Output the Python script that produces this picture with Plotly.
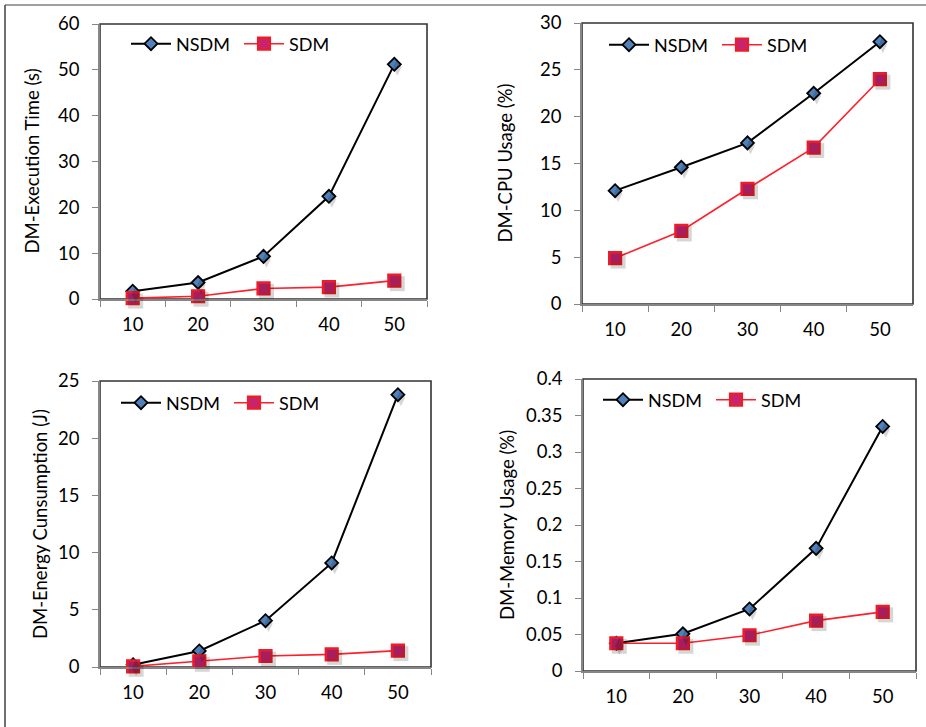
import plotly.graph_objects as go

# ---------------- data ----------------
categories = ["10", "20", "30", "40", "50"]

exec_nsdm = [1.7, 3.6, 9.3, 22.4, 51.2]
exec_sdm = [0.2, 0.6, 2.3, 2.6, 4.0]

cpu_nsdm = [12.1, 14.6, 17.2, 22.5, 28.0]
cpu_sdm = [4.9, 7.8, 12.3, 16.7, 24.0]

energy_nsdm = [0.2, 1.4, 4.05, 9.1, 23.8]
energy_sdm = [0.06, 0.5, 0.96, 1.1, 1.43]

mem_nsdm = [0.038, 0.051, 0.085, 0.168, 0.335]
mem_sdm = [0.038, 0.038, 0.049, 0.069, 0.081]

y_titles = ["DM-Execution Time (s)", "DM-CPU Usage (%)",
            "DM-Energy Cunsumption (J)", "DM-Memory Usage (%)"]
exec_ticks = [0, 10, 20, 30, 40, 50, 60]
cpu_ticks = [0, 5, 10, 15, 20, 25, 30]
energy_ticks = [0, 5, 10, 15, 20, 25]
mem_ticks = [0, 0.05, 0.1, 0.15, 0.2, 0.25, 0.3, 0.35, 0.4]
mem_tick_text = ["0", "0.05", "0.1", "0.15", "0.2", "0.25", "0.3", "0.35", "0.4"]

# ---------------- layout helpers ----------------
W, H = 926, 727
FONT = "Lato"
FS = 18.5
def px(x):
    return x / W
def py(y):
    return 1 - y / H

# plot-area pixel boxes (left, right, top, bottom) in screen pixels
boxes = [(100, 427, 24, 299), (582, 913, 23, 304),
         (100, 431, 381, 667), (583, 916, 379, 671)]
title_x = [31, 505, 40, 507]
legend_pos = [(126, 44), (604, 45), (116, 403), (598, 400)]

panels = [
    (exec_nsdm, exec_sdm, exec_ticks, [str(v) for v in exec_ticks], [0, 60]),
    (cpu_nsdm, cpu_sdm, cpu_ticks, [str(v) for v in cpu_ticks], [0, 30]),
    (energy_nsdm, energy_sdm, energy_ticks, [str(v) for v in energy_ticks], [0, 25]),
    (mem_nsdm, mem_sdm, mem_ticks, mem_tick_text, [0, 0.4]),
]

fig = go.Figure()
layout = dict(
    width=W, height=H, margin=dict(l=0, r=0, t=0, b=0, pad=0, autoexpand=False),
    paper_bgcolor="white", plot_bgcolor="rgba(0,0,0,0)",
    font=dict(family=FONT, size=FS, color="#000000"),
    showlegend=True,
)
shapes = []
annotations = []

SH = 3  # shadow offset in px

for i, (nsdm, sdm, tv, tt, yr) in enumerate(panels):
    n = i + 1
    s = n + 4
    l, r, t, b = boxes[i]
    xa = "xaxis" if n == 1 else f"xaxis{n}"
    ya = "yaxis" if n == 1 else f"yaxis{n}"
    xs, ys = f"xaxis{s}", f"yaxis{s}"
    legname = "legend" if n == 1 else f"legend{n}"

    # shadow traces
    for vals, sym, size in ((nsdm, "diamond-tall", 12), (sdm, "square", 15)):
        fig.add_trace(go.Scatter(
            x=categories, y=vals, mode="markers",
            marker=dict(symbol=sym, size=size, color="rgba(0,0,0,0.16)", line=dict(width=0)),
            xaxis=f"x{s}", yaxis=f"y{s}", showlegend=False, hoverinfo="skip", cliponaxis=False))

    fig.add_trace(go.Scatter(
        x=categories, y=nsdm, mode="lines+markers", name="NSDM",
        line=dict(color="#000000", width=2),
        marker=dict(symbol="diamond", size=10, color="#4F81BD", line=dict(color="#000000", width=1.8)),
        xaxis="x" if n == 1 else f"x{n}", yaxis="y" if n == 1 else f"y{n}",
        legend=legname, cliponaxis=False))
    fig.add_trace(go.Scatter(
        x=categories, y=sdm, mode="lines+markers", name="SDM",
        line=dict(color="#FF1F2A", width=1.6),
        marker=dict(symbol="square", size=12, color="#C8246E", line=dict(color="#EE1C25", width=2.2)),
        xaxis="x" if n == 1 else f"x{n}", yaxis="y" if n == 1 else f"y{n}",
        legend=legname, cliponaxis=False))

    layout[xa] = dict(
        domain=[px(l), px(r)], anchor="y" if n == 1 else f"y{n}",
        type="category", range=[-0.5, 4.5], tickson="boundaries",
        ticks="outside", ticklen=6, tickcolor="#868686", tickwidth=1.3,
        showline=True, linecolor="#868686", linewidth=1.5, automargin=False,
        showgrid=False, zeroline=False, ticklabelstandoff=8,
        tickfont=dict(family=FONT, size=FS, color="#000000"))
    layout[ya] = dict(
        domain=[py(b), py(t)], anchor="x" if n == 1 else f"x{n}",
        range=yr, tickvals=tv, ticktext=tt, automargin=False,
        ticks="outside", ticklen=6, tickcolor="#868686", tickwidth=1.3,
        showline=True, linecolor="#868686", linewidth=1.5,
        showgrid=False, zeroline=False, ticklabelstandoff=9,
        tickfont=dict(family=FONT, size=FS, color="#000000"))
    # shadow axes (shifted a few px right and down)
    layout[xs] = dict(domain=[px(l + SH), px(r + SH)], anchor=f"y{s}", type="category",
                      range=[-0.5, 4.5], visible=False, automargin=False)
    layout[ys] = dict(domain=[py(b + SH), py(t + SH)], anchor=f"x{s}", range=yr,
                      visible=False, automargin=False)

    # plot area box
    shapes.append(dict(type="rect", xref="paper", yref="paper", layer="below",
                       x0=px(l), x1=px(r), y0=py(b), y1=py(t),
                       line=dict(color="#333333", width=1.6), fillcolor="white"))

    annotations.append(dict(
        text=y_titles[i], textangle=-90, xref="paper", yref="paper",
        x=px(title_x[i]), y=py((t + b) / 2), xanchor="center", yanchor="middle",
        showarrow=False, font=dict(family=FONT, size=FS, color="#000000")))

    lx, ly = legend_pos[i]
    layout[legname] = dict(
        orientation="h", x=px(lx), y=py(ly), xanchor="left", yanchor="middle",
        bgcolor="rgba(0,0,0,0)", font=dict(family=FONT, size=18, color="#000000"),
        entrywidth=58, entrywidthmode="pixels", itemwidth=40, tracegroupgap=0)

# outer frame (top and left edges)
shapes.append(dict(type="line", xref="paper", yref="paper", x0=px(5), x1=1,
                   y0=py(5), y1=py(5), line=dict(color="#7F7F7F", width=1.5)))
shapes.append(dict(type="line", xref="paper", yref="paper", x0=px(5), x1=px(5),
                   y0=py(5), y1=0, line=dict(color="#404040", width=1.5)))

layout["shapes"] = shapes
layout["annotations"] = annotations
fig.update_layout(**layout)
fig.write_html("out.html", config={"displayModeBar": False},
               post_script="document.body.style.margin='0';document.body.style.overflow='hidden';")
